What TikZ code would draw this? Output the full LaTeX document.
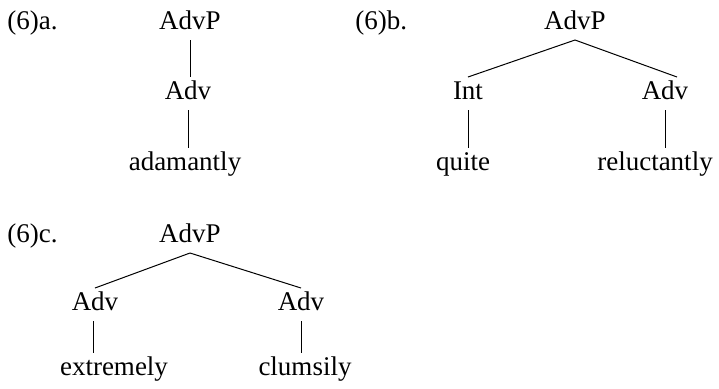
\documentclass[tikz,border=0pt]{standalone}
\usepackage{fontspec}
\setmainfont{Liberation Serif}
\usepackage{tikz}
\usetikzlibrary{calc,positioning}

\begin{document}
\begin{tikzpicture}[
  x=0.5pt,y=-0.5pt,
  every node/.style={font=\fontsize{13.5}{16}\selectfont},
  cat/.style={anchor=base,inner sep=0pt,outer sep=5.5pt,text height=5.5pt,text depth=0pt},
  tag/.style={anchor=base west,inner sep=0pt},
  branch/.style={line width=0.5pt}
  ]
  \useasboundingbox (0,0) rectangle (719,388);
  % (6)a. AdvP - Adv - adamantly
  \node [tag] (taga) at (7,29) {(6)a.};
  \node [cat] (advpa) at (190,29) {AdvP};
  \node [cat] (adva)  at (188,99) {Adv};
  \node [cat] (adamantly) at (185,170) {adamantly};
  \draw [branch] (advpa.south) -- (advpa.south |- adva.north);
  \draw [branch] (adva.south) -- (adva.south |- adamantly.north);
  % (6)b. AdvP - Int Adv - quite reluctantly
  \node [tag] (tagb) at (355,29) {(6)b.};
  \node [cat] (advpb) at (575,29) {AdvP};
  \node [cat] (intb)  at (468,99) {Int};
  \node [cat] (advb)  at (665,99) {Adv};
  \node [cat] (quite) at (463,170) {quite};
  \node [cat] (reluctantly) at (655,170) {reluctantly};
  \draw [branch] (advpb.south) -- (intb.north);
  \draw [branch] (advpb.south) -- ([xshift=6pt]advb.north);
  \draw [branch] (intb.south) -- (intb.south |- quite.north);
  \draw [branch] (advb.south) -- (advb.south |- reluctantly.north);
  % (6)c. AdvP - Adv Adv - extremely clumsily
  \node [tag] (tagc) at (7,242) {(6)c.};
  \node [cat] (advpc) at (190,242) {AdvP};
  \node [cat] (advc1) at (95,310) {Adv};
  \node [cat] (advc2) at (301,310) {Adv};
  \node [cat] (extremely) at (114,375) {extremely};
  \node [cat] (clumsily)  at (305,375) {clumsily};
  \draw [branch] (advpc.south) -- (advc1.north);
  \draw [branch] (advpc.south) -- (advc2.north);
  \draw [branch] ([xshift=-1pt]advc1.south) -- ([xshift=-1pt]advc1.south |- extremely.north);
  \draw [branch] (advc2.south) -- (advc2.south |- clumsily.north);
\end{tikzpicture}
\end{document}
